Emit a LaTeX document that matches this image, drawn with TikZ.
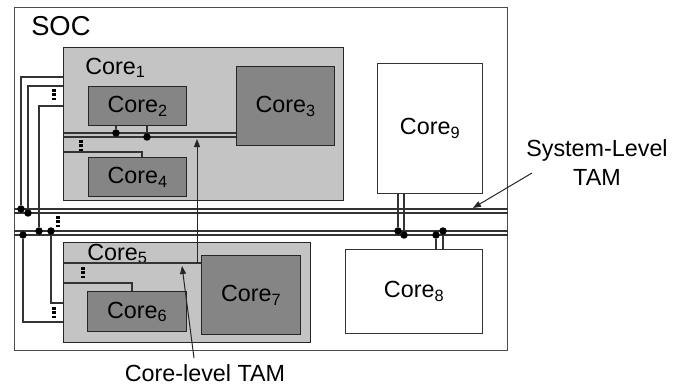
\documentclass[tikz,border=0pt]{standalone}
\usepackage{fontspec}
\setmainfont{Liberation Sans}
\usetikzlibrary{arrows.meta}

\newcommand\corefont{\fontsize{17.5}{21}\selectfont}
\newcommand\socfont{\fontsize{20.5}{24}\selectfont}

\tikzset{
  boxsize/.style 2 args={minimum width=#1*0.75pt, minimum height=#2*0.75pt},
  soc/.style={draw=black!70, line width=0.8pt, inner sep=0pt, anchor=north west},
  outer/.style={draw=black!85, fill=black!23, line width=1.1pt, inner sep=0pt, anchor=north west},
  inner/.style={draw=black!85, fill=black!48, line width=1.1pt, inner sep=0pt, anchor=north west, font=\corefont},
  plaincore/.style={draw=black!80, fill=white, line width=0.9pt, inner sep=0pt, anchor=north west, font=\corefont},
  lbl/.style={inner sep=0pt, font=\corefont},
  tam/.style={draw=black!80, line width=0.8pt},
  tap/.style={circle, fill=black, inner sep=0pt, minimum size=5.6pt},
  etc/.style={line width=2.4pt, dash pattern=on 2pt off 1.3pt},
  pointer/.style={draw=black!85, line width=0.75pt, -{Triangle[length=6pt,width=4.5pt]}}
}

\begin{document}
\begin{tikzpicture}[x=0.75pt, y=-0.75pt]
\useasboundingbox (0,0) rectangle (674,385);

% chip
\node[soc, boxsize={493}{343}] (soc) at (14,7) {};
\node[lbl, anchor=west, font=\socfont] (soclabel) at (31,26.5) {SOC};

% core 1 and its cores
\node[outer, boxsize={280}{153}] (core1) at (63,47) {};
\node[lbl, anchor=west] (core1label) at (85,68) {Core\textsubscript{1}};
\node[inner, boxsize={98}{39}] (core2) at (88,86) {Core\textsubscript{2}};
\node[inner, boxsize={98}{79}] (core3) at (236,66) {Core\textsubscript{3}};
\node[inner, boxsize={98}{39}] (core4) at (88,157) {Core\textsubscript{4}};

% core 5 and its cores
\node[outer, boxsize={247}{100}] (core5) at (63,242) {};
\node[lbl, anchor=west] (core5label) at (87,254) {Core\textsubscript{5}};
\node[inner, boxsize={99}{40}] (core6) at (87,291) {Core\textsubscript{6}};
\node[inner, boxsize={99}{79}] (core7) at (201,255) {Core\textsubscript{7}};

% flat cores
\node[plaincore, boxsize={105}{130}] (core9) at (377,63) {Core\textsubscript{9}};
\node[plaincore, boxsize={137}{84}] (core8) at (345,249) {Core\textsubscript{8}};

% system-level TAM
\foreach \y in {209,213,231,235}
  \draw[tam] (soc.west |- 0,\y) -- (soc.east |- 0,\y);

% core-level TAMs
\draw[tam] (core1.west |- 0,133) -- (core3.west |- 0,133);
\draw[tam] (core1.west |- 0,137) -- (core3.west |- 0,137);
\draw[tam] (core1.west |- 0,152) -| (core4.north -| 142,0);
\draw[tam] (core5.west |- 0,263) -- (core7.west |- 0,263);
\draw[tam] (core5.west |- 0,283) -| (core6.north -| 132,0);

% taps
\node[tap] (t2a) at (116,133) {};
\node[tap] (t2b) at (147,137) {};
\node[tap] (sa) at (21,209) {};
\node[tap] (sb) at (28,213) {};
\node[tap] (sc) at (39,231) {};
\node[tap] (sd) at (51,231) {};
\node[tap] (se) at (23,235) {};
\node[tap] (s9a) at (398,231) {};
\node[tap] (s9b) at (404,235) {};
\node[tap] (s8a) at (436,235) {};
\node[tap] (s8b) at (443,231) {};

\draw[tam] (t2a) -- (t2a |- core2.south);
\draw[tam] (t2b) -- (t2b |- core2.south);
\draw[tam] (sa) |- (core1.west |- 0,77);
\draw[tam] (sb) |- (core1.west |- 0,86);
\draw[tam] (sc) |- (core1.west |- 0,106);
\draw[tam] (sd) |- (core5.west |- 0,303);
\draw[tam] (se) |- (core5.west |- 0,322);
\draw[tam] (s9a) -- (s9a |- core9.south);
\draw[tam] (s9b) -- (s9b |- core9.south);
\draw[tam] (s8a) -- (s8a |- core8.north);
\draw[tam] (s8b) -- (s8b |- core8.north);

% more wires
\draw[etc] (54,89) -- (54,100);
\draw[etc] (81,140) -- (81,151);
\draw[etc] (58,216) -- (58,227);
\draw[etc] (83,267) -- (83,278);
\draw[etc] (54,307) -- (54,318);

% labels
\node[lbl] (ctam) at (205,373) {Core-level TAM};
\node[lbl, align=center, font=\fontsize{17.5}{21.75}\selectfont] (stam) at (597,163) {System-Level\\TAM};

\coordinate (foot1) at (197,263);
\coordinate (tip1) at (197,139);
\coordinate (foot5) at (194,358);
\coordinate (tip5) at (182,266);
\coordinate (sysfoot) at (532,173);
\coordinate (systip) at (473,208);
\draw[pointer] (foot1) -- (tip1);
\draw[pointer] (foot5) -- (tip5);
\draw[pointer] (sysfoot) -- (systip);
\end{tikzpicture}
\end{document}
